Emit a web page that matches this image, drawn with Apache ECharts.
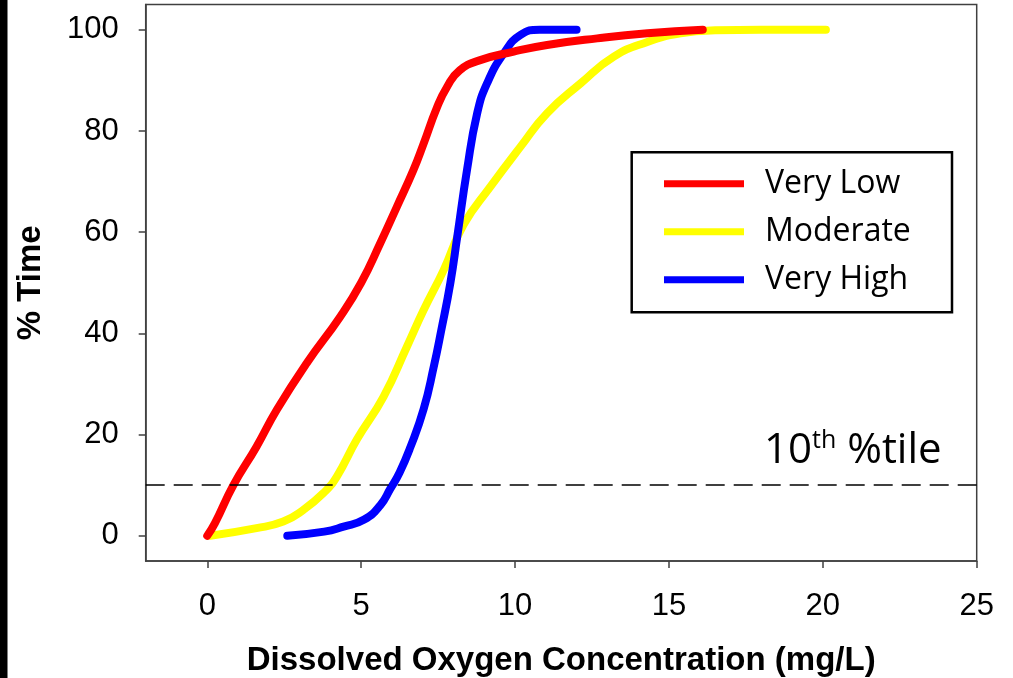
<!DOCTYPE html>
<html>
<head>
<meta charset="utf-8">
<script src="https://cdn.jsdelivr.net/npm/echarts@6/dist/echarts.min.js"></script>
<style>
  html, body { margin: 0; padding: 0; background: #fff; }
  #main { width: 1013px; height: 678px; }
</style>
</head>
<body>
<div id="main"></div>
<script>
var seriesNames = ['Very Low', 'Moderate', 'Very High'];

var veryLowX = [0, 0.25, 0.85, 1.6, 2.26, 3.23, 4.32, 5.0, 5.62, 6.16, 6.7, 7.03, 7.46, 7.79, 8.2, 8.87, 9.96, 11.04, 12.67, 14.3, 16.1];
var veryLowY = [0, 2.5, 10, 17.6, 24.9, 34.1, 43.3, 50.0, 57.8, 65.0, 72.3, 77.5, 84.6, 88.7, 92.0, 94.0, 95.7, 97.0, 98.3, 99.3, 100];

var moderateX = [0.1, 1.6, 2.47, 3.12, 3.77, 4.21, 4.86, 5.73, 6.49, 7.03, 7.68, 8.33, 9.2, 10.18, 11.04, 12.13, 13.21, 14.3, 15.38, 16.5, 18, 20.1];
var moderateY = [0, 1.5, 2.8, 5.1, 8.4, 11.7, 19.0, 27.5, 37.4, 44.6, 52.5, 61.5, 69.0, 76.9, 83.5, 89.4, 94.7, 97.6, 99.3, 99.9, 100, 100];

var veryHighX = [2.6, 3.8, 4.43, 5.1, 5.62, 5.95, 6.25, 6.6, 7.03, 7.36, 7.6, 7.9, 8.12, 8.44, 8.77, 9.09, 9.63, 10.18, 10.8, 12.0];
var veryHighY = [0, 0.8, 1.8, 3.2, 6.0, 9.3, 12.5, 17.5, 25.0, 33.4, 40.5, 50, 59, 72.3, 83.5, 89.4, 95.3, 99.0, 100, 100];

var xTicks = [0, 5, 10, 15, 20, 25];
var yTicks = [0, 20, 40, 60, 80, 100];
var percentileLine = 10;

function zip(xs, ys) {
    return xs.map(function (x, i) { return [x, ys[i]]; });
}

var myChart = echarts.init(document.getElementById('main'));

function curve(name, color, xs, ys, z) {
    return {
        name: name,
        type: 'line',
        data: zip(xs, ys),
        showSymbol: false,
        smooth: 0.5,
        z: z,
        color: color,
        lineStyle: { color: color, width: 8, cap: 'round', join: 'round' }
    };
}

var axisFont = 'Liberation Sans, Arial, sans-serif';

option = {
    animation: false,
    grid: {
        left: 145.7, right: 36.3, top: 4.5, bottom: 117,
        outerBoundsMode: 'none',
        containLabel: false,
        show: true, borderColor: '#404040', borderWidth: 1.5
    },
    legend: {
        data: seriesNames,
        orient: 'vertical',
        left: 664, top: 166.7,
        padding: 0,
        icon: 'rect',
        itemWidth: 80, itemHeight: 7,
        itemGap: 14,
        textStyle: {
            fontFamily: 'Open Sans', fontSize: 32, color: '#000',
            lineHeight: 30, padding: [4, 0, 0, 16]
        }
    },
    xAxis: {
        type: 'value',
        min: -2, max: 25,
        name: 'Dissolved Oxygen Concentration (mg/L)',
        nameLocation: 'middle',
        nameGap: 100,
        nameTextStyle: { fontFamily: axisFont, fontWeight: 'bold', fontSize: 33, color: '#000', verticalAlign: 'middle' },
        splitLine: { show: false },
        axisLine: { onZero: false, lineStyle: { color: '#404040', width: 1.5 } },
        axisTick: { show: true, length: 7, customValues: xTicks, lineStyle: { color: '#404040', width: 1.5 } },
        axisLabel: { customValues: xTicks, margin: 30, fontFamily: axisFont, fontSize: 31, color: '#000' }
    },
    yAxis: {
        type: 'value',
        min: -5, max: 105,
        name: '% Time',
        nameLocation: 'middle',
        nameGap: 115,
        nameTextStyle: { fontFamily: axisFont, fontWeight: 'bold', fontSize: 33, color: '#000', verticalAlign: 'middle' },
        splitLine: { show: false },
        axisLine: { show: true, onZero: false, lineStyle: { color: '#404040', width: 1.5 } },
        axisTick: { show: true, length: 7, customValues: yTicks, lineStyle: { color: '#404040', width: 1.5 } },
        axisLabel: { customValues: yTicks, margin: 27, fontFamily: axisFont, fontSize: 31, color: '#000' }
    },
    series: [
        curve('Moderate', '#ffff00', moderateX, moderateY, 2),
        curve('Very High', '#0000ff', veryHighX, veryHighY, 3),
        Object.assign(curve('Very Low', '#ff0000', veryLowX, veryLowY, 4), {
            markLine: {
                silent: true,
                symbol: ['none', 'none'],
                label: { show: false },
                lineStyle: { color: '#000', width: 1.5, type: [19, 9] },
                data: [{ yAxis: percentileLine }]
            }
        })
    ],
    graphic: [
        { type: 'rect', left: 0, top: 0, shape: { width: 7.5, height: 678 }, style: { fill: '#000' } },
        {
            type: 'rect', shape: { x: 631.7, y: 152.3, width: 320.3, height: 160 },
            style: { fill: 'none', stroke: '#000', lineWidth: 2.5 }, z: 1
        },
        {
            type: 'text', x: 764, y: 451,
            style: {
                text: '{a|10}{b|th}{a| %tile}',
                verticalAlign: 'middle',
                rich: {
                    a: { fontFamily: 'Open Sans', fontSize: 42, fill: '#000' },
                    b: { fontFamily: 'Open Sans', fontSize: 25, fill: '#000', verticalAlign: 'top', padding: [0, 0, 20, 0] }
                }
            }
        }
    ]
};

myChart.setOption(option);
</script>
</body>
</html>
